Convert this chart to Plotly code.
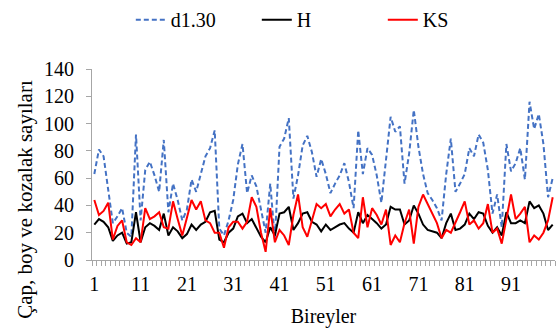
import plotly.graph_objects as go

individuals = list(range(1, 101))

d130 = [63, 81, 76, 50, 27, 32, 38, 20, 17, 92,
        29, 66, 72, 62, 50, 88, 35, 56, 44, 29,
        37, 59, 50, 63, 76, 82, 95, 23, 18, 29,
        44, 70, 85, 49, 62, 54, 38, 20, 56, 15,
        83, 89, 104, 45, 62, 84, 91, 79, 61, 74,
        63, 49, 56, 62, 71, 57, 38, 95, 63, 82,
        77, 62, 42, 73, 105, 94, 98, 56, 78, 110,
        83, 63, 49, 44, 38, 29, 63, 89, 50, 56,
        63, 82, 76, 92, 86, 66, 34, 48, 24, 85,
        65, 71, 82, 59, 116, 96, 107, 85, 46, 60]

H = [26, 30, 28, 24, 14, 18, 20, 12, 13, 35,
     13, 24, 27, 25, 22, 34, 18, 24, 21, 16,
     19, 26, 22, 26, 28, 35, 36, 15, 13, 20,
     23, 32, 34, 27, 30, 24, 17, 13, 24, 18,
     34, 35, 39, 22, 27, 34, 35, 28, 26, 21,
     26, 22, 24, 26, 27, 23, 20, 35, 27, 33,
     30, 27, 23, 26, 39, 37, 37, 26, 29, 40,
     34, 26, 22, 21, 20, 16, 27, 34, 22, 23,
     26, 34, 30, 35, 34, 25, 20, 24, 18, 35,
     27, 27, 29, 27, 43, 38, 40, 34, 22, 26]

KS = [44, 33, 36, 42, 15, 25, 29, 13, 11, 16,
      13, 38, 30, 32, 35, 24, 23, 43, 30, 18,
      31, 44, 37, 43, 29, 27, 20, 20, 9, 24,
      28, 28, 23, 28, 46, 39, 20, 6, 38, 13,
      22, 18, 11, 33, 48, 24, 17, 29, 41, 38,
      41, 32, 37, 41, 34, 37, 20, 16, 46, 24,
      38, 33, 26, 37, 11, 18, 13, 27, 37, 12,
      39, 48, 41, 35, 27, 16, 22, 20, 27, 35,
      43, 26, 29, 23, 27, 41, 20, 23, 12, 29,
      48, 30, 34, 39, 13, 18, 15, 20, 29, 46]

x_tick_labels = [1, 11, 21, 31, 41, 51, 61, 71, 81, 91]

FONT = "Liberation Serif, Times New Roman, serif"

fig = go.Figure()
fig.add_trace(go.Scatter(x=individuals, y=d130, mode="lines", name="d1.30",
                         line=dict(color="#4472C4", width=2, dash="5px,3px")))
fig.add_trace(go.Scatter(x=individuals, y=H, mode="lines", name="H",
                         line=dict(color="#000000", width=2)))
fig.add_trace(go.Scatter(x=individuals, y=KS, mode="lines", name="KS",
                         line=dict(color="#FF0000", width=2)))

fig.update_layout(
    width=559, height=328,
    margin=dict(l=92, r=4, t=69, b=68, autoexpand=False),
    paper_bgcolor="white", plot_bgcolor="white",
    font=dict(family=FONT, size=20, color="#000000"),
    showlegend=True,
    legend=dict(orientation="h", x=0.234, xanchor="left", y=0.94, yanchor="middle",
                yref="container", xref="container", entrywidth=81,
                font=dict(family=FONT, size=20)),
    xaxis=dict(
        range=[0.5, 100.5],
        tickmode="array", tickvals=x_tick_labels, ticktext=[str(v) for v in x_tick_labels],
        ticks="", showline=True, linecolor="#A6A6A6", linewidth=1,
        showgrid=False, zeroline=False, automargin=False,
        ticklabelstandoff=6,
        tickfont=dict(family=FONT, size=20),
        minor=dict(ticks="outside", tick0=0.5, dtick=1, ticklen=5, tickcolor="#A6A6A6", showgrid=False),
        title=dict(text="Bireyler", font=dict(family=FONT, size=20), standoff=14),
    ),
    yaxis=dict(
        range=[0, 140], dtick=20, tick0=0,
        ticks="outside", ticklen=5, tickcolor="#A6A6A6",
        showline=True, linecolor="#A6A6A6", linewidth=1,
        showgrid=False, zeroline=False, automargin=False,
        ticklabelstandoff=8,
        tickfont=dict(family=FONT, size=20),
    ),
    annotations=[dict(text="Çap, boy ve kozalak sayıları", textangle=-90,
                      xref="paper", yref="paper", x=-0.145, y=0.32,
                      xanchor="center", yanchor="middle", showarrow=False,
                      font=dict(family=FONT, size=21))],
)

fig.write_html("out.html", config={"displayModeBar": False},
               post_script="document.body.style.margin='0px';")
